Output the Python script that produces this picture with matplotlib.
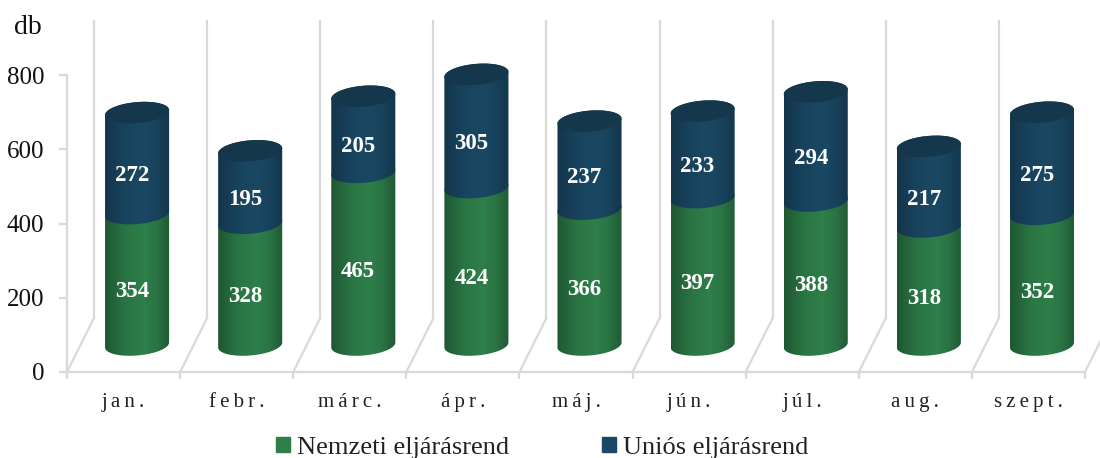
#!/usr/bin/env python3
"""Stacked 3D-look cylinder chart, monthly counts by procedure type."""

import matplotlib
matplotlib.use("Agg")
import matplotlib.pyplot as plt
import numpy as np
from matplotlib.colors import LinearSegmentedColormap
from matplotlib.patches import Patch, Polygon

months = ['jan.', 'febr.', 'márc.', 'ápr.', 'máj.', 'jún.', 'júl.', 'aug.', 'szept.']
nemzeti = [354, 328, 465, 424, 366, 397, 388, 318, 352]
unios = [272, 195, 205, 305, 237, 233, 294, 217, 275]
y_ticks = [0, 200, 400, 600, 800]

plt.rcParams['font.family'] = ['Liberation Serif', 'DejaVu Serif']

GREEN = '#2E7F4A'
BLUE = '#1A4863'
GRID = '#D9D9D9'

# one pixel in data units
PX_X = 1 / 113
PX_Y = 800 / 297
# the floor recedes up and to the right, bars stand half way back
DEPTH_X = 27 * PX_X
DEPTH_Y = 54 * PX_Y
RX = 32 * PX_X
RY = 10.5 * PX_Y
SHEAR = 2.5 * PX_Y

green_cmap = LinearSegmentedColormap.from_list(
    'g', [(0, '#1F5733'), (0.3, '#2A7443'), (0.6, GREEN), (0.8, '#2A7343'), (1, '#205A35')])
blue_cmap = LinearSegmentedColormap.from_list(
    'b', [(0, '#14354B'), (0.3, '#18435D'), (0.6, BLUE), (0.8, '#18425B'), (1, '#14364C')])
gradient = np.linspace(0, 1, 128).reshape(1, -1)


def arc(cx, cy, start, stop):
    """Points along the tilted ellipse of a cylinder section."""
    t = np.linspace(start, stop, 60)
    return np.column_stack([cx + RX * np.cos(t), cy + RY * np.sin(t) + SHEAR * np.cos(t)])


def draw_section(ax, cx, y0, y1, cmap):
    """Side of a cylinder from y0 to y1, shaded across its width."""
    lower = arc(cx, y0, np.pi, 2 * np.pi)
    upper = arc(cx, y1, 0, np.pi)
    side = Polygon(np.vstack([lower, upper]), closed=True, transform=ax.transData)
    im = ax.imshow(gradient, cmap=cmap, aspect='auto', zorder=3,
                   extent=[cx - RX, cx + RX, y0 - 2 * RY, y1 + 2 * RY])
    # tall bars go above the 800 line, so only the shape may clip them
    im.set_clip_box(fig.bbox)
    im.set_clip_path(side)


fig = plt.figure(figsize=(11, 4.58), dpi=100)
ax = fig.add_axes([67 / 1100, (458 - 372) / 458, 1018 / 1100, 297 / 458])

# back wall and floor lines
for i in range(len(months) + 1):
    x0 = i - 0.5
    ax.plot([x0, x0 + DEPTH_X], [0, DEPTH_Y], color=GRID, lw=1.6, clip_on=False, zorder=1)
    ax.plot([x0 + DEPTH_X] * 2, [DEPTH_Y, 800 + DEPTH_Y], color=GRID, lw=1.6, clip_on=False, zorder=1)

for i, (a, b) in enumerate(zip(nemzeti, unios)):
    cx = i + DEPTH_X / 2
    base = DEPTH_Y / 2
    draw_section(ax, cx, base, base + a, green_cmap)
    draw_section(ax, cx, base + a, base + a + b, blue_cmap)
    ax.add_patch(Polygon(arc(cx, base + a + b, 0, 2 * np.pi), closed=True, clip_on=False,
                         facecolor='#15374C', edgecolor='none', zorder=4))
    ax.text(cx - 5 * PX_X, a / 2 + 39, str(a), color='white', fontsize=16.5, fontweight='bold',
            ha='center', va='center', zorder=5)
    ax.text(cx - 5 * PX_X, a + b / 2 + 39, str(b), color='white', fontsize=16.5, fontweight='bold',
            ha='center', va='center', zorder=5)

ax.set_xlim(-0.5, len(months) - 0.5)
ax.set_ylim(0, 800)

for side in ('top', 'right'):
    ax.spines[side].set_visible(False)
for side in ('left', 'bottom'):
    ax.spines[side].set_color(GRID)
    ax.spines[side].set_linewidth(1.6)

ax.set_yticks(y_ticks)
ax.tick_params(axis='y', colors=GRID, length=5.5, width=1.6, labelcolor='#111111', labelsize=18, pad=11)
ax.set_xticks(range(len(months)))
ax.set_xticklabels(['\u2009'.join(m) for m in months])
ax.tick_params(axis='x', which='major', length=0, labelcolor='#222222', labelsize=15, pad=15)
ax.set_xticks(np.arange(len(months) + 1) - 0.5, minor=True)
ax.tick_params(axis='x', which='minor', colors=GRID, length=5, width=1.6)

fig.text(27.5 / 1100, 1 - 27 / 458, 'db', fontsize=20, color='#111111', ha='center', va='center')

handles = [Patch(color=GREEN, label='Nemzeti eljárásrend'), Patch(color=BLUE, label='Uniós eljárásrend')]
fig.legend(handles=handles, ncol=2, frameon=False, fontsize=19, labelcolor='#222222',
           loc='center', bbox_to_anchor=(542 / 1100, 1 - 448 / 458), handlelength=0.53, handleheight=0.53,
           handletextpad=0.27, columnspacing=3.5, borderpad=0, borderaxespad=0)

fig.savefig('out.png', dpi=100)
